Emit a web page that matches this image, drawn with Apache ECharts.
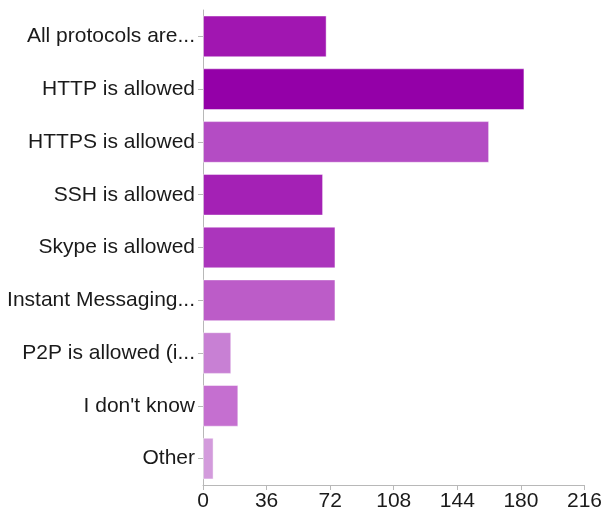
<!DOCTYPE html>
<html>
<head>
<meta charset="utf-8">
<script src="https://cdn.jsdelivr.net/npm/echarts@6/dist/echarts.min.js"></script>
<style>html,body{margin:0;padding:0;background:#fff}#c{width:605px;height:517px}</style>
</head>
<body>
<div id="c"></div>
<script>
const categories = ["All protocols are...", "HTTP is allowed", "HTTPS is allowed", "SSH is allowed", "Skype is allowed", "Instant Messaging...", "P2P is allowed (i...", "I don't know", "Other"];
const values = [70, 182, 162, 68, 75, 75, 16, 20, 6];
const xTicks = [0, 36, 72, 108, 144, 180, 216];
const barColors = ["#a116b1", "#9400a8", "#b44cc4", "#a421b5", "#ab35bc", "#bc5cc8", "#c880d4", "#c56fd0", "#d39bdc"];

const chart = echarts.init(document.getElementById('c'), null, {renderer: 'canvas'});
chart.setOption({
  animation: false,
  grid: {left: 203, right: 14, top: 10, bottom: 32, containLabel: false},
  xAxis: {
    type: 'value', min: xTicks[0], max: xTicks[xTicks.length - 1], interval: 36,
    axisLine: {show: true, lineStyle: {color: '#b8b8b8', width: 1}},
    axisTick: {show: true, length: 5, lineStyle: {color: '#b8b8b8'}},
    splitLine: {show: false},
    axisLabel: {color: '#1a1a1a', fontSize: 21, fontFamily: 'Liberation Sans, Arial, sans-serif', margin: 6}
  },
  yAxis: {
    type: 'category', data: categories, inverse: true,
    axisLine: {show: true, lineStyle: {color: '#b8b8b8', width: 1}},
    axisTick: {show: true, length: 5, alignWithLabel: true, lineStyle: {color: '#b8b8b8'}},
    axisLabel: {color: '#1a1a1a', fontSize: 21, fontFamily: 'Liberation Sans, Arial, sans-serif', margin: 8}
  },
  series: [{
    type: 'bar',
    data: values.map((v, i) => ({value: v, itemStyle: {color: barColors[i]}})),
    barCategoryGap: '21%',
    itemStyle: {borderColor: 'rgba(255,255,255,0.45)', borderWidth: 1}
  }]
});
</script>
</body>
</html>
